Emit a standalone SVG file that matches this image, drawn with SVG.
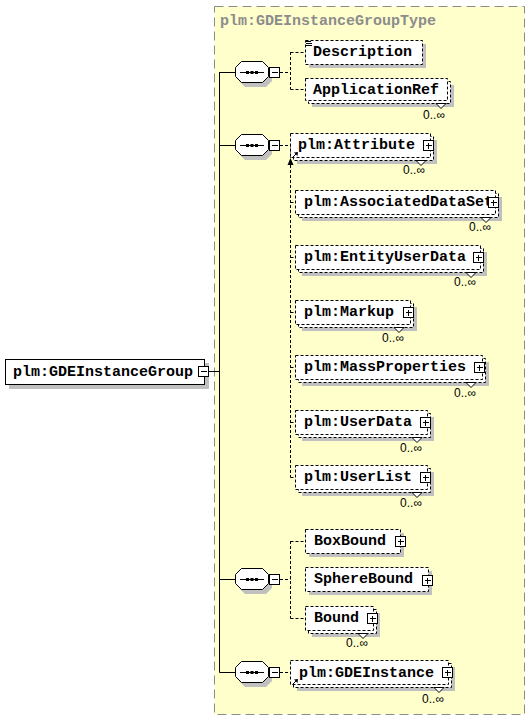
<svg xmlns="http://www.w3.org/2000/svg" width="530" height="720" viewBox="0 0 530 720">
<defs>
<style>
.bg{fill:#FFFFCC;stroke:#8c8c8c;stroke-width:1;stroke-dasharray:9,5}
.ttl{font-family:"Liberation Mono",monospace;font-weight:bold;font-size:15px;fill:#8c8c8c}
.t{font-family:"Liberation Mono",monospace;font-weight:bold;font-size:15px;fill:#000}
.c{font-family:"Liberation Sans",sans-serif;font-size:12px;fill:#000}
.sh{fill:#C0C0C0}
.box{fill:#fff;stroke:#000;stroke-width:1;stroke-dasharray:3,2}
.sbox{fill:#fff;stroke:#000;stroke-width:1}
.ln{fill:none;stroke:#000;stroke-width:1}
.dl{fill:none;stroke:#000;stroke-width:1;stroke-dasharray:3,2}
.btn{fill:#fff;stroke:#000;stroke-width:1}
.notch{fill:#fff;stroke:#000;stroke-width:1}
</style>
<g id="plus">
<rect class="btn" x="0.5" y="0.5" width="10" height="10"/>
<path class="ln" d="M3 5.5H9M5.5 3V9"/>
</g>
<g id="minus">
<rect class="btn" x="0.5" y="0.5" width="10" height="10"/>
<path class="ln" d="M3 5.5H9"/>
</g>
<g id="seq">
<path class="sh" d="M10 -6H31L37 0V9L31 15H10L4 9V0Z"/>
<path class="sbox" d="M6.5 -10.5H27.5L33.5 -4.5V4.5L27.5 10.5H6.5L0.5 4.5V-4.5Z"/>
<path class="ln" d="M5 0.5H29"/>
<rect x="11" y="-1" width="3" height="3" fill="#000"/>
<rect x="15.5" y="-1" width="3" height="3" fill="#000"/>
<rect x="20" y="-1" width="3" height="3" fill="#000"/>
<path class="ln" d="M33.5 0.5H35"/>
<use href="#minus" x="34" y="-5"/>
</g>
</defs>

<rect class="bg" x="214.5" y="6.5" width="310" height="708"/>
<text class="ttl" x="220" y="25">plm:GDEInstanceGroupType</text>

<g id="connectors">
<path class="ln" d="M209 371.5H219.5M219.5 72V672.5M219.5 72.5H235M219.5 145.5H235M219.5 579.5H235M219.5 672.5H235"/>
<path class="dl" d="M280 72.5H290.5M290.5 52V89.5M290.5 52.5H305M290.5 89.5H305"/>
<path class="dl" d="M280 145.5H290.5M290.5 145V477.5M290.5 202.5H295M290.5 257.5H295M290.5 312.5H295M290.5 367.5H295M290.5 422.5H295M290.5 477.5H295"/>
<polygon points="290.5,158 287.5,165 293.5,165" fill="#000"/>
<path class="dl" d="M280 579.5H290.5M290.5 541V618.5M290.5 541.5H305M290.5 618.5H305"/>
<path class="dl" d="M280 672.5H290"/>
</g>

<g id="root">
<rect class="sh" x="9" y="363" width="200" height="26"/>
<rect class="sbox" x="5.5" y="359.5" width="199" height="25"/>
<text class="t" x="13" y="376">plm:GDEInstanceGroup</text>
<use href="#minus" x="198" y="366"/>
</g>

<g id="seq1"><use href="#seq" x="235" y="72"/></g>
<g id="seq2"><use href="#seq" x="235" y="145"/></g>
<g id="seq3"><use href="#seq" x="235" y="579"/></g>
<g id="seq4"><use href="#seq" x="235" y="672"/></g>

<g id="Description">
<rect class="sh" x="309" y="44" width="117" height="24"/>
<rect class="box" x="305.5" y="40.5" width="117" height="24"/>
<path class="ln" d="M306 41.5H311M306 43.5H312M306 45.5H312"/>
<text class="t" x="313" y="56">Description</text>
</g>

<g id="ApplicationRef">
<rect class="sh" x="312" y="85" width="142" height="22"/>
<rect class="box" x="308.5" y="81.5" width="142" height="22"/>
<rect class="box" x="305.5" y="78.5" width="142" height="22"/>
<polygon class="notch" points="436,103.5 441,108.5 446,103.5"/>
<text class="t" x="313" y="94">ApplicationRef</text>
<text class="c" x="445" y="119" text-anchor="end">0..∞</text>
</g>

<g id="Attribute">
<rect class="sh" x="297" y="140" width="140" height="24"/>
<rect class="box" x="293.5" y="136.5" width="140" height="24"/>
<rect class="box" x="290.5" y="133.5" width="140" height="24"/>
<polygon class="notch" points="416,160.5 421,165.5 426,160.5"/>
<text class="t" x="298" y="149">plm:Attribute</text>
<use href="#plus" x="423" y="140"/>
<path class="ln" d="M292.5 157.5L296.5 153.5"/>
<polygon points="298,152 294,152.5 297.5,156" fill="#000"/>
<text class="c" x="425" y="174" text-anchor="end">0..∞</text>
</g>

<g id="AssociatedDataSet">
<rect class="sh" x="302" y="197" width="200" height="24"/>
<rect class="box" x="298.5" y="193.5" width="200" height="24"/>
<rect class="box" x="295.5" y="190.5" width="200" height="24"/>
<polygon class="notch" points="481,217.5 486,222.5 491,217.5"/>
<text class="t" x="304" y="206">plm:AssociatedDataSet</text>
<use href="#plus" x="488" y="197"/>
<text class="c" x="491" y="231" text-anchor="end">0..∞</text>
</g>

<g id="EntityUserData">
<rect class="sh" x="302" y="252" width="185" height="24"/>
<rect class="box" x="298.5" y="248.5" width="185" height="24"/>
<rect class="box" x="295.5" y="245.5" width="185" height="24"/>
<polygon class="notch" points="466,272.5 471,277.5 476,272.5"/>
<text class="t" x="304" y="261">plm:EntityUserData</text>
<use href="#plus" x="473" y="252"/>
<text class="c" x="476" y="286" text-anchor="end">0..∞</text>
</g>

<g id="Markup">
<rect class="sh" x="302" y="307" width="115" height="24"/>
<rect class="box" x="298.5" y="303.5" width="115" height="24"/>
<rect class="box" x="295.5" y="300.5" width="115" height="24"/>
<polygon class="notch" points="394,327.5 399,332.5 404,327.5"/>
<text class="t" x="304" y="316">plm:Markup</text>
<use href="#plus" x="403" y="307"/>
<text class="c" x="404" y="342" text-anchor="end">0..∞</text>
</g>

<g id="MassProperties">
<rect class="sh" x="302" y="362" width="187" height="24"/>
<rect class="box" x="298.5" y="358.5" width="187" height="24"/>
<rect class="box" x="295.5" y="355.5" width="187" height="24"/>
<polygon class="notch" points="466,382.5 471,387.5 476,382.5"/>
<text class="t" x="304" y="371">plm:MassProperties</text>
<use href="#plus" x="474" y="362"/>
<text class="c" x="476" y="397" text-anchor="end">0..∞</text>
</g>

<g id="UserData">
<rect class="sh" x="302" y="417" width="132" height="24"/>
<rect class="box" x="298.5" y="413.5" width="132" height="24"/>
<rect class="box" x="295.5" y="410.5" width="132" height="24"/>
<polygon class="notch" points="412,437.5 417,442.5 422,437.5"/>
<text class="t" x="304" y="426">plm:UserData</text>
<use href="#plus" x="420" y="417"/>
<text class="c" x="422" y="452" text-anchor="end">0..∞</text>
</g>

<g id="UserList">
<rect class="sh" x="302" y="472" width="132" height="24"/>
<rect class="box" x="298.5" y="468.5" width="132" height="24"/>
<rect class="box" x="295.5" y="465.5" width="132" height="24"/>
<polygon class="notch" points="412,492.5 417,497.5 422,492.5"/>
<text class="t" x="304" y="481">plm:UserList</text>
<use href="#plus" x="420" y="472"/>
<text class="c" x="422" y="507" text-anchor="end">0..∞</text>
</g>

<g id="BoxBound">
<rect class="sh" x="309" y="533" width="95" height="24"/>
<rect class="box" x="305.5" y="529.5" width="95" height="24"/>
<text class="t" x="314" y="545">BoxBound</text>
<use href="#plus" x="395" y="536"/>
</g>

<g id="SphereBound">
<rect class="sh" x="309" y="571" width="123" height="24"/>
<rect class="box" x="305.5" y="567.5" width="123" height="24"/>
<text class="t" x="314" y="583">SphereBound</text>
<use href="#plus" x="422" y="575"/>
</g>

<g id="Bound">
<rect class="sh" x="312" y="613" width="68" height="24"/>
<rect class="box" x="308.5" y="609.5" width="68" height="24"/>
<rect class="box" x="305.5" y="606.5" width="68" height="24"/>
<polygon class="notch" points="358,633.5 363,638.5 368,633.5"/>
<text class="t" x="314" y="622">Bound</text>
<use href="#plus" x="367" y="613"/>
<text class="c" x="368" y="647" text-anchor="end">0..∞</text>
</g>

<g id="GDEInstance">
<rect class="sh" x="297" y="667" width="158" height="24"/>
<rect class="box" x="293.5" y="663.5" width="158" height="24"/>
<rect class="box" x="290.5" y="660.5" width="158" height="24"/>
<polygon class="notch" points="434,687.5 439,692.5 444,687.5"/>
<text class="t" x="299" y="677">plm:GDEInstance</text>
<use href="#plus" x="442" y="667"/>
<path class="ln" d="M292.5 684.5L296.5 680.5"/>
<polygon points="298,679 294,679.5 297.5,683" fill="#000"/>
<text class="c" x="444" y="703" text-anchor="end">0..∞</text>
</g>
</svg>
